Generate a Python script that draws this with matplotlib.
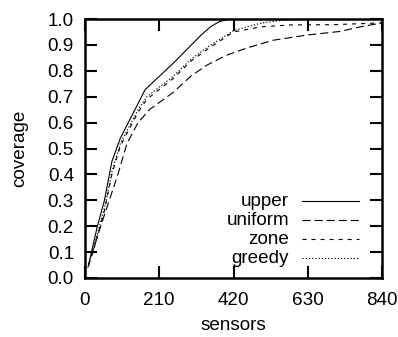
import matplotlib
matplotlib.use('Agg')
import matplotlib.pyplot as plt

plt.rcParams['font.family'] = ['Liberation Sans', 'DejaVu Sans']
plt.rcParams['lines.scale_dashes'] = False

# coverage vs number of deployed sensors
upper_x = [10, 20, 35, 55, 76, 100, 170, 250, 330, 355, 380, 410, 840]
upper_y = [0.05, 0.11, 0.20, 0.30, 0.45, 0.54, 0.727, 0.83, 0.94, 0.97,
           0.99, 1.0, 1.0]

uniform_x = [8, 42, 93, 119, 150, 184, 249, 300, 345, 400, 458,
             532, 628, 721, 780, 840]
uniform_y = [0.04, 0.19, 0.40, 0.52, 0.60, 0.652, 0.716, 0.78,
             0.822, 0.86, 0.888, 0.918, 0.938, 0.952, 0.97, 0.985]

zone_x = [10, 20, 35, 55, 76, 100, 150, 175, 249, 300, 345, 420, 500, 580,
          700, 840]
zone_y = [0.05, 0.09, 0.16, 0.26, 0.40, 0.51, 0.64, 0.69, 0.77, 0.838,
          0.882, 0.95, 0.97, 0.977, 0.978, 0.985]

greedy_x = [10, 20, 35, 55, 76, 100, 150, 175, 249, 300, 345, 420, 500, 580,
            630, 840]
greedy_y = [0.05, 0.10, 0.17, 0.27, 0.41, 0.52, 0.65, 0.70, 0.778, 0.845,
            0.89, 0.955, 0.985, 0.998, 1.0, 1.0]

xticks = [0, 210, 420, 630, 840]
yticks = [0.0, 0.1, 0.2, 0.3, 0.4, 0.5, 0.6, 0.7, 0.8, 0.9, 1.0]

series = [
    ('upper', upper_x, upper_y, '-'),
    ('uniform', uniform_x, uniform_y, (0, (5.8, 2.9))),
    ('zone', zone_x, zone_y, (0, (2.9, 3.6))),
    ('greedy', greedy_x, greedy_y, (0, (0.9, 1.4))),
]

fig = plt.figure(figsize=(3.98, 3.37), dpi=100)
ax = fig.add_axes([85 / 398, 59 / 337, 297 / 398, 259 / 337])

for name, xs, ys, ls in series:
    ax.plot(xs, ys, color='black', lw=0.8, ls=ls)

ax.set_xlim(0, 840)
ax.set_ylim(0, 1.0)
ax.set_xticks(xticks)
ax.set_xticklabels([str(t) for t in xticks])
ax.set_yticks(yticks)
ax.set_yticklabels(['%.1f' % t for t in yticks])

for sp in ax.spines.values():
    sp.set_linewidth(1.8)
ax.tick_params(direction='in', length=8.5, width=1.5, labelsize=13.6,
               top=True, right=True, pad=8)
ax.tick_params(axis='x', pad=10)

ax.set_xlabel('sensors', fontsize=13.6, va='center')
ax.xaxis.set_label_coords(0.5, -0.185)
ax.set_ylabel('coverage', fontsize=13.6, va='center')
ax.yaxis.set_label_coords(-0.219, 0.5)

# key in the lower right, text right-aligned before the line sample
for i, (name, xs, ys, ls) in enumerate(series):
    ky = 0.297 - i * 0.0735
    ax.text(0.687, ky, name, transform=ax.transAxes, ha='right',
            va='center', fontsize=13.6)
    ax.plot([0.731, 0.923], [ky, ky], transform=ax.transAxes,
            color='black', lw=0.8, ls=ls)

fig.savefig('out.png', dpi=100)
